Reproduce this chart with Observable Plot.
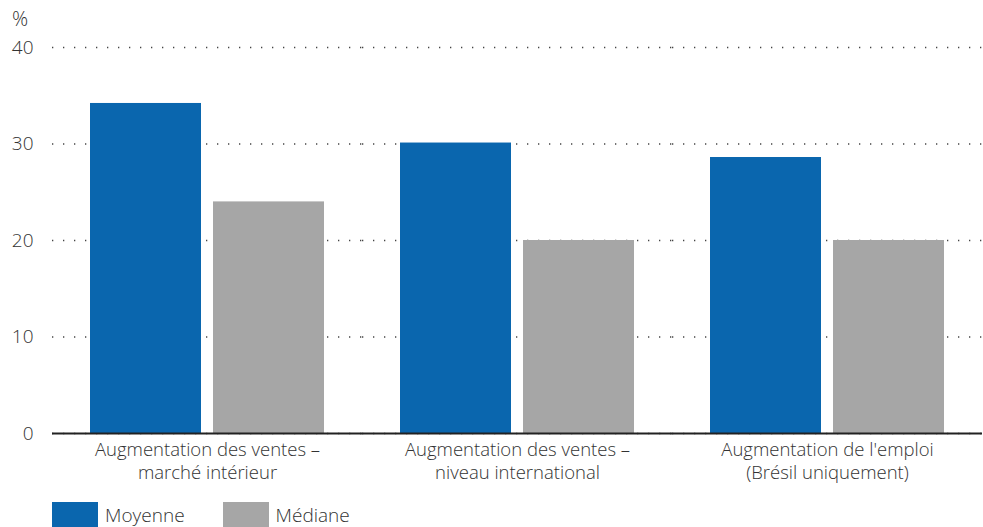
<!DOCTYPE html>
<html><head><meta charset="utf-8">
<script src="https://cdn.jsdelivr.net/npm/d3@7"></script>
<script src="https://cdn.jsdelivr.net/npm/@observablehq/plot@0.6"></script>
<style>
body{margin:0;background:#fff;font-family:"Open Sans",sans-serif;}
#chart{position:relative;width:983px;}
#legend{display:flex;align-items:center;margin-left:52px;margin-top:2px;font-size:19px;font-weight:300;color:#333;}
.sw{display:inline-block;width:46px;height:26px;margin-right:7px;}
.item{display:flex;align-items:center;}
</style></head><body>
<div id="chart"></div>
<div id="legend"></div>
<script>
const groups = ["Augmentation des ventes –\nmarché intérieur", "Augmentation des ventes –\nniveau international", "Augmentation de l'emploi\n(Brésil uniquement)"];
const series = ["Moyenne", "Médiane"];
const moyenne = [34.2, 30.1, 28.6];
const mediane = [24, 20, 20];
const yTicks = [0, 10, 20, 30, 40];
const colors = ["#0a66ae", "#a6a6a6"];

const data = groups.flatMap((g, i) => [
  {group: g, series: series[0], value: moyenne[i]},
  {group: g, series: series[1], value: mediane[i]}
]);

const chart = Plot.plot({
  width: 983, height: 500,
  marginLeft: 51, marginRight: 1, marginTop: 47, marginBottom: 67,
  style: {fontFamily: "'Open Sans', sans-serif", fontSize: "19px", fontWeight: 300, color: "#333", background: "#fff"},
  fx: {domain: groups, padding: 0, label: null},
  x: {domain: series, paddingInner: 0.097, paddingOuter: 0.3, axis: null},
  y: {domain: [0, 40], label: null},
  color: {domain: series, range: colors},
  marks: [
    Plot.gridY(yTicks, {stroke: "#444", strokeOpacity: 1, strokeWidth: 1.3, strokeDasharray: "1.3,9.7"}),
    Plot.axisY(yTicks, {tickSize: 0, tickPadding: 19, label: null, fontSize: 19}),
    Plot.axisFx({anchor: "bottom", tickSize: 0, tickPadding: 6, label: null, fontSize: 18.5, lineHeight: 1.25}),
    Plot.barY(data, {fx: "group", x: "series", y: "value", fill: "series"}),
    Plot.ruleY([0], {stroke: "#222", strokeWidth: 2})
  ]
});
d3.select(chart).append("text")
  .attr("x", 12).attr("y", 26).attr("text-anchor", "start")
  .attr("font-size", 20).attr("font-weight", 300).attr("fill", "#333")
  .text("%");
document.getElementById("chart").appendChild(chart);

const legend = d3.select("#legend");
series.forEach((s, i) => {
  const item = legend.append("div").attr("class", "item").style("margin-right", i === 0 ? "38px" : "0");
  item.append("span").attr("class", "sw").style("background", colors[i]);
  item.append("span").text(s);
});
</script>
</body></html>
